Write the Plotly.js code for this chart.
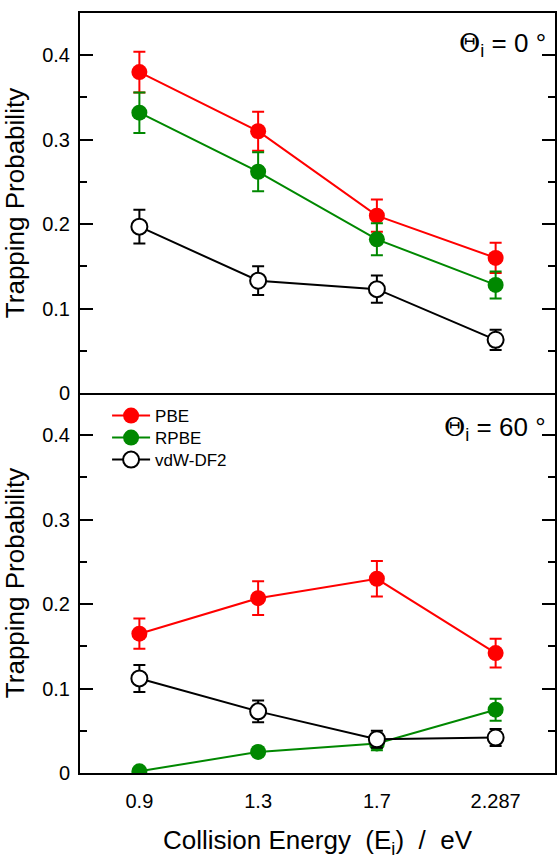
<!DOCTYPE html>
<html>
<head>
<meta charset="utf-8">
<script src="https://cdn.plot.ly/plotly-3.0.1.min.js"></script>
<style>html,body{margin:0;padding:0;background:#fff;}#plot{width:557px;height:861px;}</style>
</head>
<body>
<div id="plot"></div>
<script>
// Collision energies (category labels)
const energies = ['0.9', '1.3', '1.7', '2.287'];
const seriesNames = ['PBE', 'RPBE', 'vdW-DF2'];

// Theta_i = 0 deg (top panel)
const pbe0 = [0.380, 0.310, 0.210, 0.160];
const pbe0Err = [0.024, 0.023, 0.019, 0.018];
const rpbe0 = [0.332, 0.262, 0.182, 0.128];
const rpbe0Err = [0.024, 0.023, 0.019, 0.016];
const vdw0 = [0.197, 0.133, 0.123, 0.063];
const vdw0Err = [0.020, 0.017, 0.016, 0.012];

// Theta_i = 60 deg (bottom panel)
const pbe60 = [0.165, 0.207, 0.230, 0.142];
const pbe60Err = [0.018, 0.020, 0.021, 0.017];
const rpbe60 = [0.002, 0.025, 0.035, 0.075];
const rpbe60Err = [0.002, 0.005, 0.008, 0.013];
const vdw60 = [0.112, 0.073, 0.040, 0.042];
const vdw60Err = [0.016, 0.013, 0.010, 0.010];

const FONT = 'Liberation Sans, Arial, sans-serif';
const styles = [
  {color: '#ff0000', fill: '#ff0000', line: '#ff0000'},
  {color: '#008800', fill: '#008800', line: '#008800'},
  {color: '#000000', fill: '#ffffff', line: '#000000'}
];
const legendIds = ['legend', 'legend2', 'legend3'];

function mk(y, err, idx, xa, ya, showleg) {
  const s = styles[idx];
  return {
    type: 'scatter', mode: 'lines+markers',
    x: energies, y: y, xaxis: xa, yaxis: ya,
    name: seriesNames[idx], showlegend: showleg, legend: legendIds[idx],
    line: {color: s.color, width: 2},
    marker: {size: 16, color: s.fill, line: {color: s.line, width: idx === 2 ? 2 : 0}},
    error_y: {type: 'data', array: err, visible: true, color: s.color, thickness: 2, width: 6}
  };
}

const data = [
  mk(pbe0, pbe0Err, 0, 'x2', 'y2', false),
  mk(rpbe0, rpbe0Err, 1, 'x2', 'y2', false),
  mk(vdw0, vdw0Err, 2, 'x2', 'y2', false),
  mk(pbe60, pbe60Err, 0, 'x', 'y', true),
  mk(rpbe60, rpbe60Err, 1, 'x', 'y', true),
  mk(vdw60, vdw60Err, 2, 'x', 'y', true)
];

const yBase = {
  range: [0, 0.45], tickvals: [0, 0.1, 0.2, 0.3, 0.4], ticktext: ['0', '0.1', '0.2', '0.3', '0.4'],
  ticks: 'inside', ticklen: 13, tickwidth: 2, tickcolor: '#000',
  minor: {dtick: 0.05, tick0: 0, ticks: 'inside', ticklen: 7, tickwidth: 2, tickcolor: '#000'},
  showline: true, linewidth: 2, linecolor: '#000', mirror: 'ticks',
  showgrid: false, zeroline: false,
  tickfont: {family: FONT, size: 20, color: '#000'},
  ticklabelstandoff: 4,
  title: {text: 'Trapping Probability', font: {family: FONT, size: 26, color: '#000'}, standoff: 10}
};
const xBase = {
  type: 'category', range: [-0.5, 3.5],
  showline: true, linewidth: 2, linecolor: '#000',
  ticks: '', showgrid: false, zeroline: false,
  tickfont: {family: FONT, size: 20, color: '#000'}
};

const legBase = {xanchor: 'left', yanchor: 'middle', bgcolor: 'rgba(0,0,0,0)',
  font: {family: FONT, size: 17, color: '#000'}, itemwidth: 38, borderwidth: 0};
// legend rows at ~416, 438, 460 px => paper y = (773 - py)/760
const layout = {
  width: 557, height: 861,
  margin: {l: 80, r: 2, t: 13, b: 88},
  paper_bgcolor: '#fff', plot_bgcolor: '#fff',
  font: {family: FONT, color: '#000'},
  showlegend: true,
  legend: Object.assign({}, legBase, {x: 0.057, y: 0.4697}),
  legend2: Object.assign({}, legBase, {x: 0.057, y: 0.4408}),
  legend3: Object.assign({}, legBase, {x: 0.057, y: 0.4118}),
  xaxis: Object.assign({}, xBase, {anchor: 'y', domain: [0, 1], mirror: false, ticklabelstandoff: 9,
    title: {text: 'Collision Energy  (E<sub>i</sub>)  /  eV', font: {family: FONT, size: 26, color: '#000'}, standoff: 20}}),
  xaxis2: Object.assign({}, xBase, {anchor: 'y2', domain: [0, 1], mirror: true, matches: 'x', showticklabels: false}),
  yaxis: Object.assign({}, yBase, {domain: [0, 0.5], anchor: 'x'}),
  yaxis2: Object.assign({}, yBase, {domain: [0.5, 1], anchor: 'x2'}),
  annotations: [
    {xref: 'x2 domain', yref: 'y2 domain', x: 0.985, y: 0.965, xanchor: 'right', yanchor: 'top', showarrow: false,
      text: '<span style="font-family:DejaVu Serif">Θ</span><sub>i</sub> = 0 °', font: {family: FONT, size: 26, color: '#000'}},
    {xref: 'x domain', yref: 'y domain', x: 0.985, y: 0.955, xanchor: 'right', yanchor: 'top', showarrow: false,
      text: '<span style="font-family:DejaVu Serif">Θ</span><sub>i</sub> = 60 °', font: {family: FONT, size: 26, color: '#000'}}
  ]
};

Plotly.newPlot('plot', data, layout, {displayModeBar: false, staticPlot: true});
</script>
</body>
</html>
